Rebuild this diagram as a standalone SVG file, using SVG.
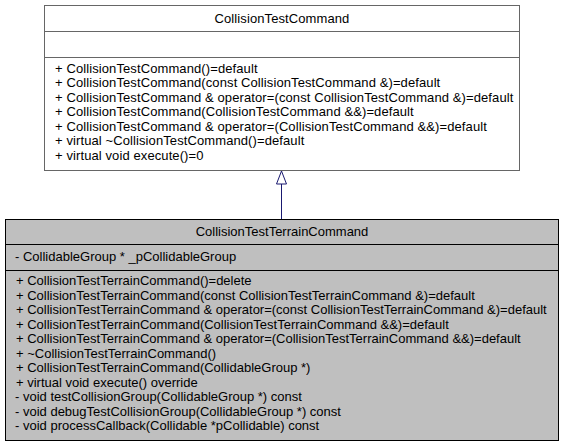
<svg xmlns="http://www.w3.org/2000/svg" width="564" height="448" viewBox="0 0 564 448">
<style>
text{font-family:"Liberation Sans",Arial,sans-serif;font-size:13px;letter-spacing:0.1px;fill:#000}
.derived text{letter-spacing:0}
.c{text-anchor:middle}
.base rect,.base line{stroke:#666;stroke-width:1;fill:#fff}
.derived rect,.derived line{stroke:#000;stroke-width:1;fill:#bfbfbf}
.edge{stroke:#191970;stroke-width:1;fill:none}
.head{stroke:#191970;stroke-width:1;fill:#fff}
</style>
<rect width="564" height="448" fill="#fff"/>
<g id="CollisionTestCommand" class="base">
<rect x="44.5" y="5.5" width="475" height="165"/>
<line x1="44.5" y1="31.5" x2="519.5" y2="31.5"/>
<line x1="44.5" y1="57.5" x2="519.5" y2="57.5"/>
<text class="c" x="282" y="22.5">CollisionTestCommand</text>
<text x="55" y="72.5">+ CollisionTestCommand()=default</text>
<text x="55" y="87">+ CollisionTestCommand(const CollisionTestCommand &amp;)=default</text>
<text x="55" y="101.5">+ CollisionTestCommand &amp; operator=(const CollisionTestCommand &amp;)=default</text>
<text x="55" y="116">+ CollisionTestCommand(CollisionTestCommand &amp;&amp;)=default</text>
<text x="55" y="130.5">+ CollisionTestCommand &amp; operator=(CollisionTestCommand &amp;&amp;)=default</text>
<text x="55" y="145">+ virtual ~CollisionTestCommand()=default</text>
<text x="55" y="159.5">+ virtual void execute()=0</text>
</g>
<g id="CollisionTestTerrainCommand" class="derived">
<rect x="5.5" y="219.5" width="553" height="221"/>
<line x1="5.5" y1="244.5" x2="558.5" y2="244.5"/>
<line x1="5.5" y1="270.5" x2="558.5" y2="270.5"/>
<text class="c" x="282" y="235.5">CollisionTestTerrainCommand</text>
<text x="15" y="261">- CollidableGroup * _pCollidableGroup</text>
<text x="16" y="285">+ CollisionTestTerrainCommand()=delete</text>
<text x="16" y="299.5">+ CollisionTestTerrainCommand(const CollisionTestTerrainCommand &amp;)=default</text>
<text x="16" y="314">+ CollisionTestTerrainCommand &amp; operator=(const CollisionTestTerrainCommand &amp;)=default</text>
<text x="16" y="328.5">+ CollisionTestTerrainCommand(CollisionTestTerrainCommand &amp;&amp;)=default</text>
<text x="16" y="343">+ CollisionTestTerrainCommand &amp; operator=(CollisionTestTerrainCommand &amp;&amp;)=default</text>
<text x="16" y="357.5">+ ~CollisionTestTerrainCommand()</text>
<text x="16" y="372">+ CollisionTestTerrainCommand(CollidableGroup *)</text>
<text x="16" y="386.5">+ virtual void execute() override</text>
<text x="15" y="401">- void testCollisionGroup(CollidableGroup *) const</text>
<text x="15" y="415.5">- void debugTestCollisionGroup(CollidableGroup *) const</text>
<text x="15" y="430">- void processCallback(Collidable *pCollidable) const</text>
</g>
<g id="connectors">
<line class="edge" x1="281.5" y1="184" x2="281.5" y2="219"/>
<polygon class="head" points="281.5,171 276.5,184 286.5,184"/>
</g>
</svg>
